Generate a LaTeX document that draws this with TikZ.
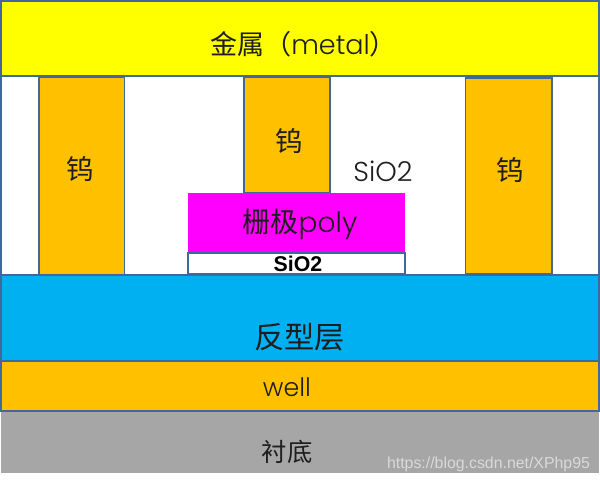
\documentclass[tikz,border=0pt]{standalone}
\usepackage{fontspec}
\setmainfont{Lato}
\newfontfamily\cjk{Noto Sans CJK SC}
\newfontfamily\lat{Poppins Light}
\newfontfamily\wm{Liberation Sans}
\definecolor{edge}{HTML}{41689A}
\definecolor{amber}{HTML}{FFC000}
\definecolor{sky}{HTML}{00B0F0}
\definecolor{lemon}{HTML}{FFFF00}
\definecolor{pink}{HTML}{FF00FF}
\definecolor{ground}{HTML}{A6A6A6}
\definecolor{txt}{HTML}{1E1E1E}
\tikzset{
  layer/.style={draw=edge,line width=0.9pt},
  big/.style={text=txt,inner sep=0pt,font=\fontsize{20.5}{24}\selectfont},
}
\begin{document}
\begin{tikzpicture}[x=0.75pt,y=-0.75pt]
\useasboundingbox (0,0) rectangle (600,483);
\fill[white] (0,0) rectangle (600,483);
\draw[layer,fill=white] (1,76) rectangle (599,275);
\draw[layer,fill=lemon] (1,1) rectangle (599,76);
\fill[ground] (1,411) rectangle (599,473);
\draw[layer,fill=sky] (1,275) rectangle (599,361);
\draw[layer,fill=amber] (1,361) rectangle (599,411);
\draw[layer,fill=amber] (39,77) rectangle (124.5,275);
\draw[layer,fill=amber] (244,77) rectangle (330,193);
\draw[layer,fill=amber] (465.5,78) rectangle (552,274);
\fill[pink] (188,193) rectangle (405,253);
\draw[layer,fill=white] (188,253) rectangle (405,274);
\node[big,font=\fontsize{20.3}{24}\selectfont] (metal) at (303.5,44) {{\cjk 金属（}{\lat metal}{\cjk ）}};
\node[big] (w1) at (80.5,169) {\cjk 钨};
\node[big] (w2) at (289,141) {\cjk 钨};
\node[big] (w3) at (510,170) {\cjk 钨};
\node[big,font=\fontsize{20.5}{24}\selectfont\lat] (ox) at (383,171) {SiO2};
\node[big,font=\fontsize{21}{24}\selectfont] (poly) at (300,224) {{\cjk 栅极}{\lat poly}};
\node[inner sep=0pt,text=black,font=\fontsize{16}{16}\selectfont\bfseries\wm] (thin) at (298,264) {SiO2};
\node[big,font=\fontsize{22.7}{24}\selectfont] (inv) at (299.5,337) {\cjk 反型层};
\node[big,font=\fontsize{19}{24}\selectfont\lat] (well) at (287,387) {well};
\node[big,font=\fontsize{19}{24}\selectfont] (sub) at (287,452) {\cjk 衬底};
\node[inner sep=0pt,text=white!85!black,font=\fontsize{11.9}{14}\selectfont\wm] (mark) at (488.5,464) {https://blog.csdn.net/XPhp95};
\end{tikzpicture}
\end{document}
